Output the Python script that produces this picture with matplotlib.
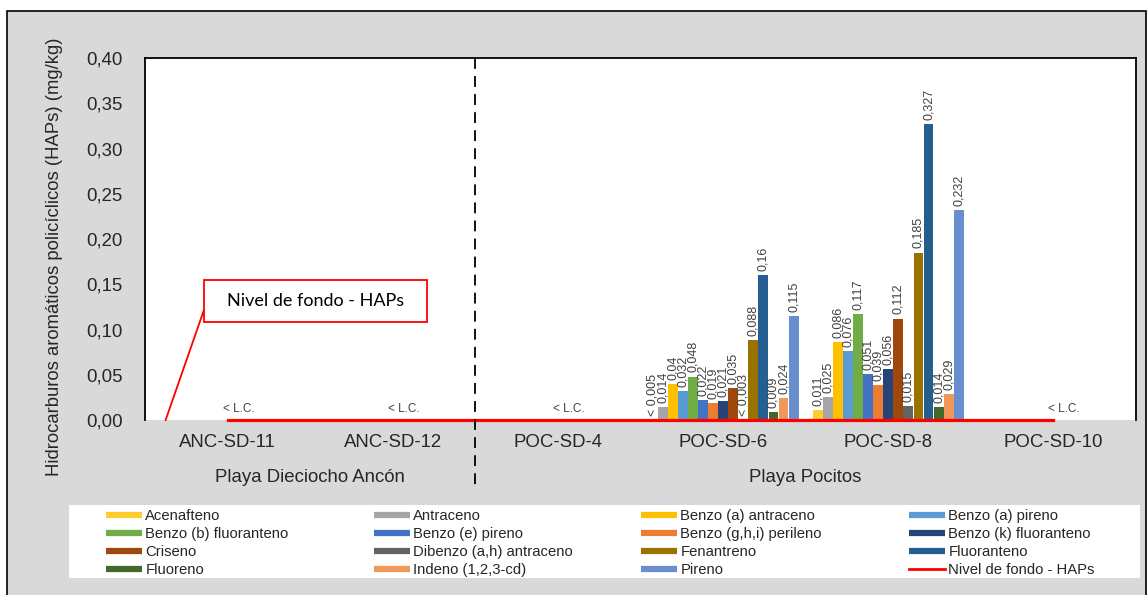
import numpy as np
import matplotlib.pyplot as plt
from matplotlib.patches import Rectangle
from matplotlib.lines import Line2D
import matplotlib.transforms as mtransforms

plt.rcParams['font.family'] = ['Liberation Sans', 'DejaVu Sans']

# ###############
# Data (mg/kg)
stations = ['ANC-SD-11', 'ANC-SD-12', 'POC-SD-4', 'POC-SD-6', 'POC-SD-8', 'POC-SD-10']
sites = ['Playa Dieciocho Ancón', 'Playa Pocitos']
site_stations = [[0, 1], [2, 3, 4, 5]]

compounds = ['Acenafteno', 'Antraceno', 'Benzo (a) antraceno', 'Benzo (a) pireno',
             'Benzo (b) fluoranteno', 'Benzo (e) pireno', 'Benzo (g,h,i) perileno',
             'Benzo (k) fluoranteno', 'Criseno', 'Dibenzo (a,h) antraceno', 'Fenantreno',
             'Fluoranteno', 'Fluoreno', 'Indeno (1,2,3-cd)', 'Pireno']
colors = ['#FFCD2E', '#A5A5A5', '#FFC000', '#5B9BD5', '#70AD47', '#4472C4', '#ED7D31',
          '#264478', '#9E480E', '#636363', '#997300', '#255E91', '#43682B', '#F1975A', '#698ED0']

# None = below quantification limit
poc_sd6 = [None, 0.014, 0.04, 0.032, 0.048, 0.022, 0.019, 0.021, 0.035, None,
           0.088, 0.16, 0.009, 0.024, 0.115]
poc_sd6_lim = ['< 0,005', None, None, None, None, None, None, None, None, '< 0,003',
               None, None, None, None, None]
poc_sd8 = [0.011, 0.025, 0.086, 0.076, 0.117, 0.051, 0.039, 0.056, 0.112, 0.015,
           0.185, 0.327, 0.014, 0.029, 0.232]
measured = {'POC-SD-6': (poc_sd6, poc_sd6_lim), 'POC-SD-8': (poc_sd8, [None] * 15)}
nivel_fondo = [0, 0, 0, 0, 0, 0]
yticks = [0.0, 0.05, 0.10, 0.15, 0.20, 0.25, 0.30, 0.35, 0.40]

# ###############
fig = plt.figure(figsize=(11.48, 5.95), dpi=100)
fig.patch.set_facecolor('white')
fig.add_artist(Rectangle((7 / 1148, -0.02), 1139 / 1148, 1.02 - 11 / 595,
                         transform=fig.transFigure, facecolor='#D9D9D9',
                         edgecolor='black', lw=1.2, zorder=-2))
fig.add_artist(Rectangle((69 / 1148, 1 - 578 / 595), 1071 / 1148, 73 / 595,
                         transform=fig.transFigure, facecolor='white',
                         edgecolor='none', zorder=-1))

ax = fig.add_axes([145 / 1148, 1 - 420 / 595, 991 / 1148, 362 / 595])
ax.set_facecolor('white')

n = len(compounds)
w = 0.061
x = np.arange(len(stations))
txtc = '#262626'

for i, comp in enumerate(compounds):
    heights = []
    for s in stations:
        if s in measured and measured[s][0][i] is not None:
            heights.append(measured[s][0][i])
        else:
            heights.append(np.nan)
    xi = x + (i - (n - 1) / 2) * w
    ax.bar(xi, heights, width=w * 0.98, color=colors[i], label=comp, zorder=2)
    for xx, s, h in zip(xi, stations, heights):
        if s not in measured:
            continue
        if not np.isnan(h):
            lab = f'{h:g}'.replace('.', ',')
            yy = h
        else:
            lab = measured[s][1][i]
            yy = 0
        ax.annotate(lab, (xx, yy), xytext=(0, 3), textcoords='offset points',
                    rotation=90, ha='center', va='bottom', fontsize=9, color='#404040')

# stations with every compound below L.C.
for j, s in enumerate(stations):
    if s not in measured:
        ax.text(j + 0.065, 0.006, '< L.C.', ha='center', va='bottom',
                fontsize=8.5, color='#404040')

line, = ax.plot(x, nivel_fondo, color='red', lw=2.3, zorder=3, clip_on=False,
                label='Nivel de fondo - HAPs')

# annotation box
ax.add_patch(Rectangle((-0.1454, 0.1083), 1.3551, 0.0464, facecolor='white',
                       edgecolor='red', lw=1.3, zorder=4))
ax.text(0.532, 0.1315, 'Nivel de fondo - HAPs', ha='center', va='center',
        fontsize=13, family='Lato', color='black', zorder=5)
ax.plot([-0.1454, -0.375], [0.1204, 0.0], color='red', lw=1.3, zorder=4, clip_on=False)

ax.set_xlim(-0.5, len(stations) - 0.5)
ax.set_ylim(0, 0.40)
ax.set_yticks(yticks)
ax.set_yticklabels([f'{t:.2f}'.replace('.', ',') for t in yticks], fontsize=13.4, color=txtc)
ax.tick_params(axis='y', length=0, pad=16)
ax.set_xticks([])
for sp in ['left', 'top', 'right']:
    ax.spines[sp].set_color('black')
    ax.spines[sp].set_linewidth(1.3)
ax.spines['bottom'].set_visible(False)

trans = mtransforms.blended_transform_factory(ax.transData, ax.transAxes)
for j, s in enumerate(stations):
    ax.text(j, -0.0635, s, transform=trans, ha='center', va='center',
            fontsize=13.4, color=txtc)
for site, idx in zip(sites, site_stations):
    ax.text(np.mean(idx), -0.16, site, transform=trans, ha='center', va='center',
            fontsize=13.4, color=txtc)
ax.plot([1.5, 1.5], [1, -0.193], transform=trans, color='black', lw=1.3,
        ls=(0, (6, 4)), clip_on=False, zorder=5)

fig.text(55 / 1148, 1 - 257 / 595, 'Hidrocarburos aromáticos policíclicos (HAPs) (mg/kg)',
         rotation=90, ha='center', va='center', fontsize=13.3, color=txtc)

# legend: 4 columns, row-major order as in original
handles = [Line2D([], [], color=c, lw=4.5, solid_capstyle='butt') for c in colors]
handles.append(Line2D([], [], color='red', lw=2))
labels = compounds + ['Nivel de fondo - HAPs']
col_x = [106, 374, 641, 909]
for c in range(4):
    fig.legend([handles[r * 4 + c] for r in range(4)], [labels[r * 4 + c] for r in range(4)],
               loc='upper left', bbox_to_anchor=(col_x[c] / 1148, 1 - 509 / 595),
               frameon=False, borderpad=0, borderaxespad=0, fontsize=10.7,
               handlelength=2.4, handletextpad=0.25, labelspacing=0.27,
               labelcolor=txtc)

fig.savefig('out.png', dpi=100)
